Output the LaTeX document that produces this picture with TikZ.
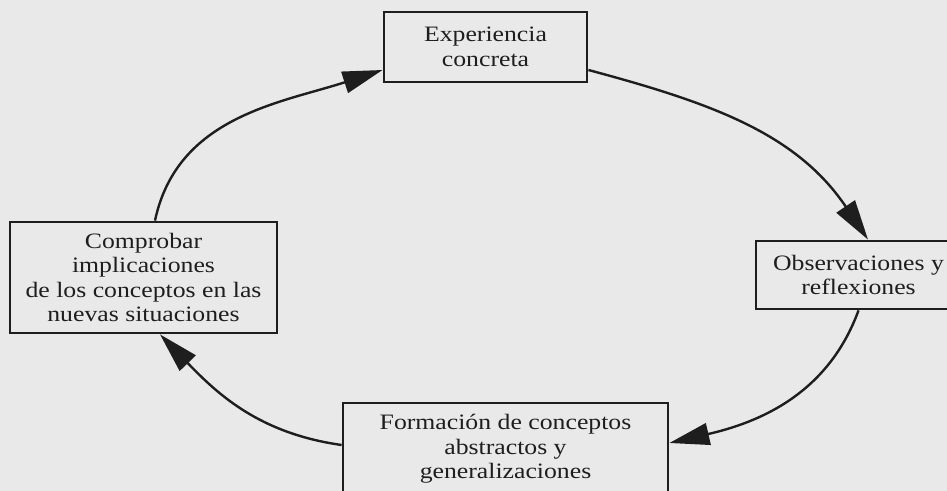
\documentclass[tikz,border=0pt]{standalone}
\usepackage{fontspec}
\setmainfont{Liberation Serif}[FakeStretch=1.17]
\usetikzlibrary{arrows.meta}
\definecolor{paper}{HTML}{E9E9E9}
\definecolor{ink}{HTML}{1E1E1E}
\begin{document}
\begin{tikzpicture}[x=0.5pt,y=0.5pt,
  box/.style={draw=ink, line width=1.4pt, inner sep=0pt, align=center,
    text=ink, font=\fontsize{11}{12.2}\selectfont},
  cycle/.style={draw=ink, line width=1.2pt,
    -{Triangle[length=20pt,width=11pt]}}]
  % page and frame
  \fill[paper] (0,0) rectangle (947,491);
  \useasboundingbox (0,0) rectangle (947,491);
  \clip (0,0) rectangle (947,491);

  % the four stages
  \node[box, minimum width=101.5pt, minimum height=35pt] (exp) at (485.5,444)
    {Experiencia\\concreta};
  \node[box, minimum width=102.5pt, minimum height=34pt] (obs) at (858.5,216)
    {Observaciones y\\reflexiones};
  \node[box, minimum width=162.5pt, minimum height=46pt] (abs) at (505.5,42)
    {Formación de conceptos\\abstractos y\\generalizaciones};
  \node[box, minimum width=133.5pt, minimum height=55.5pt] (imp) at (143.5,213.5)
    {Comprobar\\implicaciones\\de los conceptos en las\\nuevas situaciones};

  % the cycle
  \draw[cycle] ([xshift=5.75pt]imp.north) to[out=78,in=198]
    ([yshift=-11.5pt]exp.west);
  \draw[cycle] ([yshift=-11.5pt]exp.east) to[out=-15,in=124]
    ([xshift=4.75pt]obs.north);
  \draw[cycle] (obs.south) to[out=-110,in=13]
    ([yshift=3pt]abs.east);
  \draw[cycle] ([yshift=2pt]abs.west) to[out=172,in=-46]
    ([xshift=8.25pt]imp.south);
\end{tikzpicture}
\end{document}
